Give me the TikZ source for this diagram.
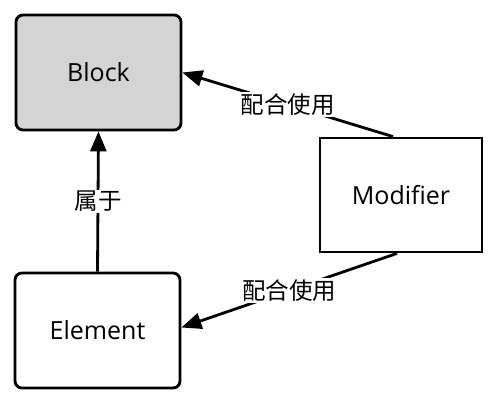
\documentclass[tikz,border=0pt]{standalone}
\usepackage{fontspec}
\setmainfont{Open Sans}
\newfontfamily\cjk{Noto Sans CJK SC}
\usetikzlibrary{arrows.meta}
\begin{document}
\begin{tikzpicture}[x=1pt,y=-1pt,
  box/.style={draw=black,line width=2.8pt,minimum width=165pt,minimum height=115pt,font=\fontsize{25}{28}\selectfont,inner sep=0pt},
  roundbox/.style={box,rounded corners=7pt},
  conn/.style={line width=2.8pt,-{Triangle[length=20pt,width=16pt]}},
  lbl/.style={fill=white,inner sep=1.5pt,font=\cjk\fontsize{23.5}{26}\selectfont}]
\path[use as bounding box,fill=white] (0,0) rectangle (498,400);
\node[roundbox,fill=black!17] (block) at (98.5,72.5) {Block};
\node[box,minimum width=162pt,minimum height=114pt] (mod) at (401,195) {Modifier};
\node[roundbox] (elem) at (97.5,330.5) {Element};
\draw[conn] ([xshift=-8pt]mod.north) -- node[lbl] {配合使用} ([yshift=0pt]block.east);
\draw[conn] ([xshift=-4pt]mod.south) -- node[lbl] {配合使用} ([yshift=3pt]elem.east);
\draw[conn] (elem.north) -- node[lbl] {属于} (block.south);
\end{tikzpicture}
\end{document}
